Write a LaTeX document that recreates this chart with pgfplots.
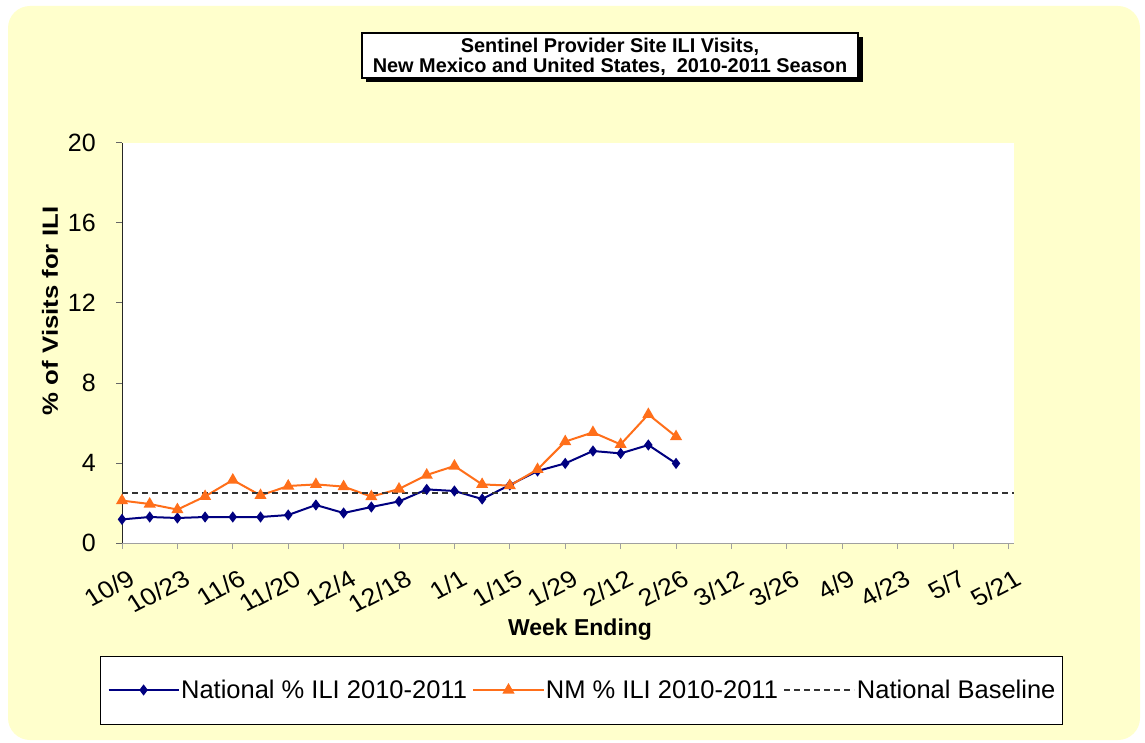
\documentclass[border=0pt]{standalone}
\usepackage{fontspec}
\setmainfont{Liberation Sans}
\usepackage{pgfplots}
\pgfplotsset{compat=1.18}
\definecolor{bgyellow}{HTML}{FFFFCC}
\definecolor{navyline}{HTML}{000080}
\definecolor{nmorange}{HTML}{FF6F1A}
\definecolor{axgray}{HTML}{A0A0A0}
\pgfplotstableread{
week nat nm
0 1.18 2.12
1 1.30 1.95
2 1.25 1.67
3 1.30 2.33
4 1.30 3.15
5 1.30 2.38
6 1.40 2.85
7 1.90 2.93
8 1.50 2.82
9 1.80 2.32
10 2.08 2.70
11 2.68 3.40
12 2.60 3.85
13 2.20 2.93
14 2.90 2.87
15 3.60 3.68
16 3.98 5.07
17 4.60 5.53
18 4.48 4.93
19 4.90 6.43
20 3.98 5.32
}\iliData
\begin{document}
\begin{tikzpicture}[x=1pt,y=1pt]
\fill[white] (0,0) rectangle (1145,742);
\fill[bgyellow, rounded corners=22pt] (8,2) rectangle (1140,736);
% title box
\fill[black] (366,660) rectangle (863,705);
\draw[fill=white, line width=1.2pt] (362,664) rectangle (858,709);
\node[align=center, font=\fontsize{19.9}{19.5}\selectfont\bfseries] at (610,685) {Sentinel Provider Site ILI Visits,\\New Mexico and United States,\ \ 2010-2011 Season};
% legend box
\draw[fill=white, line width=0.8pt] (100,18) rectangle (1062,86);
\begin{axis}[
  at={(122pt,199pt)}, anchor=south west,
  scale only axis, width=892pt, height=400pt,
  xmin=0, xmax=32.2, ymin=0, ymax=20,
  axis x line*=bottom, axis y line*=left,
  axis background/.style={fill=white},
  x axis line style={axgray, line width=1pt, -},
  y axis line style={black!85, line width=1pt, -},
  xtick={0,2,...,32},
  xticklabels={10/9,10/23,11/6,11/20,12/4,12/18,1/1,1/15,1/29,2/12,2/26,3/12,3/26,4/9,4/23,5/7,5/21},
  ytick={0,4,...,20},
  tick align=outside,
  major tick length=6pt,
  x tick style={axgray, line width=1pt},
  y tick style={black!60, line width=1pt},
  /pgf/number format/assume math mode=true,
  xticklabel style={font=\fontsize{24}{26}\selectfont, xscale=1.12, rotate=30, anchor=north east, inner sep=1pt, yshift=-18pt, xshift=-5pt},
  yticklabel style={font=\fontsize{25}{27}\selectfont, anchor=east, inner sep=0pt, xshift=-20pt},
  xlabel={Week Ending},
  xlabel style={font=\fontsize{23}{26}\selectfont\bfseries, at={(axis description cs:0.5135,-0.2175)}, anchor=center},
  ylabel={\scalebox{1.17}[1]{\% of Visits for ILI}},
  ylabel style={font=\fontsize{22}{26}\selectfont\bfseries, at={(axis description cs:-0.0807,0.58)}, anchor=center},
  legend columns=3,
  legend style={at={(axis description cs:0.5160,-0.3675)}, anchor=center, draw=none, fill=none,
    font=\fontsize{25.5}{27}\selectfont, nodes={inner sep=1.5pt},
    /tikz/every even column/.append style={column sep=4pt}},
  legend image code/.code={\draw[mark repeat=2,mark phase=2,#1] plot coordinates {(0pt,0pt) (35pt,0pt) (70pt,0pt)};},
]
\addplot[navyline, line width=2pt, mark=diamond*, mark size=4pt, mark options={fill=navyline, solid}] table[x=week, y=nat] {\iliData};
\addlegendentry{National \% ILI 2010-2011}
\addplot[nmorange, line width=2pt, mark=triangle*, mark size=5pt, mark options={fill=nmorange, solid}] table[x=week, y=nm] {\iliData};
\addlegendentry{NM \% ILI 2010-2011}
\addplot[black!80, line width=2pt, dash pattern=on 6pt off 4pt] coordinates {(0,2.5) (32.2,2.5)};
\addlegendentry{National Baseline}
\end{axis}
\end{tikzpicture}
\end{document}
